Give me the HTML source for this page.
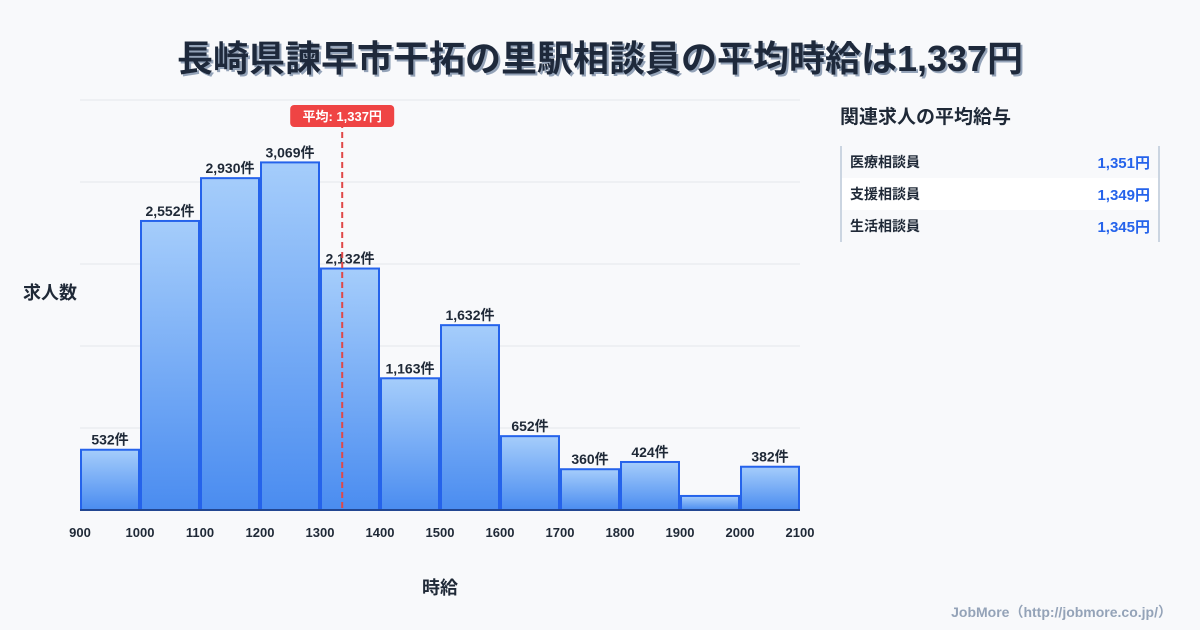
<!DOCTYPE html>
<html><head><meta charset="utf-8"><style>
body{margin:0;width:1200px;height:630px;background:#f8f9fb;font-family:"Liberation Sans","Noto Sans CJK JP",sans-serif;overflow:hidden;position:relative;color:#1f2937}
#title{position:absolute;top:30px;left:0;width:1200px;text-align:center;font-size:36px;font-weight:bold;color:#1e293b;text-shadow:2px 2px 0 #94a3b8}
#side{position:absolute;left:840px;top:102px}
#side h2{margin:0;font-size:19px;font-weight:bold;color:#1f2937}
table{position:absolute;left:0;top:44px;width:320px;border-collapse:collapse;border-left:2px solid #cbd5e1;border-right:2px solid #cbd5e1}
td{height:32px;font-size:14px;font-weight:bold;padding:0 8px}
td.v{text-align:right;color:#2563eb;font-size:15px}
tr.w{background:#fff}
#foot{position:absolute;right:28px;top:602px;font-size:14px;color:#94a3b8;font-weight:bold}
</style></head><body>
<div id="title">長崎県諫早市干拓の里駅相談員の平均時給は1,337円</div>
<svg id="chart" width="1200" height="630" style="position:absolute;left:0;top:0"></svg>
<div id="side">
<h2>関連求人の平均給与</h2>
<table>
<tr><td>医療相談員</td><td class="v">1,351円</td></tr>
<tr class="w"><td>支援相談員</td><td class="v">1,349円</td></tr>
<tr><td>生活相談員</td><td class="v">1,345円</td></tr>
</table></div>
<div id="foot">JobMore（http://jobmore.co.jp/）</div>
<script>
const binStarts=[900,1000,1100,1200,1300,1400,1500,1600,1700,1800,1900,2000];
const counts=[532,2552,2930,3069,2132,1163,1632,652,360,424,124,382];
const showLabel=[1,1,1,1,1,1,1,1,1,1,0,1];
const xTicks=[900,1000,1100,1200,1300,1400,1500,1600,1700,1800,1900,2000,2100];
const avg=1337;
const NS="http://www.w3.org/2000/svg";
const svg=document.getElementById('chart');
const x0=80,x1=800,yB=510,yT=100,xmin=900,xmax=2100,ymax=3620;
const X=v=>x0+(v-xmin)/(xmax-xmin)*(x1-x0);
const Y=v=>yB-v/ymax*(yB-yT);
function mk(t,a,txt){const e=document.createElementNS(NS,t);for(const k in a)e.setAttribute(k,a[k]);if(txt!=null)e.textContent=txt;svg.appendChild(e);return e;}
const defs=mk('defs',{});
defs.innerHTML='<linearGradient id="g" x1="0" y1="0" x2="0" y2="1"><stop offset="0" stop-color="#a5cdfb"/><stop offset="1" stop-color="#4a8cf0"/></linearGradient>';
for(let i=0;i<=5;i++){const y=yB-i*(yB-yT)/5;const l=mk('line',{x1:x0,x2:x1,y1:y,y2:y,stroke:'#e5e7eb','stroke-width':1});
}
binStarts.forEach((s,i)=>{const r=mk('rect',{x:X(s)+1,y:Y(counts[i]),width:X(s+100)-X(s)-2,height:yB-Y(counts[i]),fill:'url(#g)',stroke:'#2563eb','stroke-width':2});

if(showLabel[i]){const t=mk('text',{x:X(s+50),y:Y(counts[i])-5,'text-anchor':'middle','font-size':14,'font-weight':'bold',fill:'#1f2937'},counts[i].toLocaleString('en-US')+'件');
}});
const ax=mk('line',{x1:x0,x2:x1,y1:yB,y2:yB,stroke:'#1f2937','stroke-width':1});

xTicks.forEach(v=>{const t=mk('text',{x:X(v),y:537,'text-anchor':'middle','font-size':13,'font-weight':'bold',fill:'#1f2937'},v);
});
const al=mk('line',{x1:X(avg),x2:X(avg),y1:122,y2:yB,stroke:'#e04848','stroke-width':2,'stroke-dasharray':'6,4'});

const ab=mk('rect',{x:X(avg)-52,y:105,width:104,height:22,rx:4,fill:'#ef4444'});

const at=mk('text',{x:X(avg),y:121,'text-anchor':'middle','font-size':13,'font-weight':'bold',fill:'#fff'},'平均: '+avg.toLocaleString('en-US')+'円');

const xt=mk('text',{x:440,y:594,'text-anchor':'middle','font-size':18,'font-weight':'bold',fill:'#1f2937'},'時給');

const yt=mk('text',{x:50,y:299,'text-anchor':'middle','font-size':18,'font-weight':'bold',fill:'#1f2937'},'求人数');

</script>
</body></html>
